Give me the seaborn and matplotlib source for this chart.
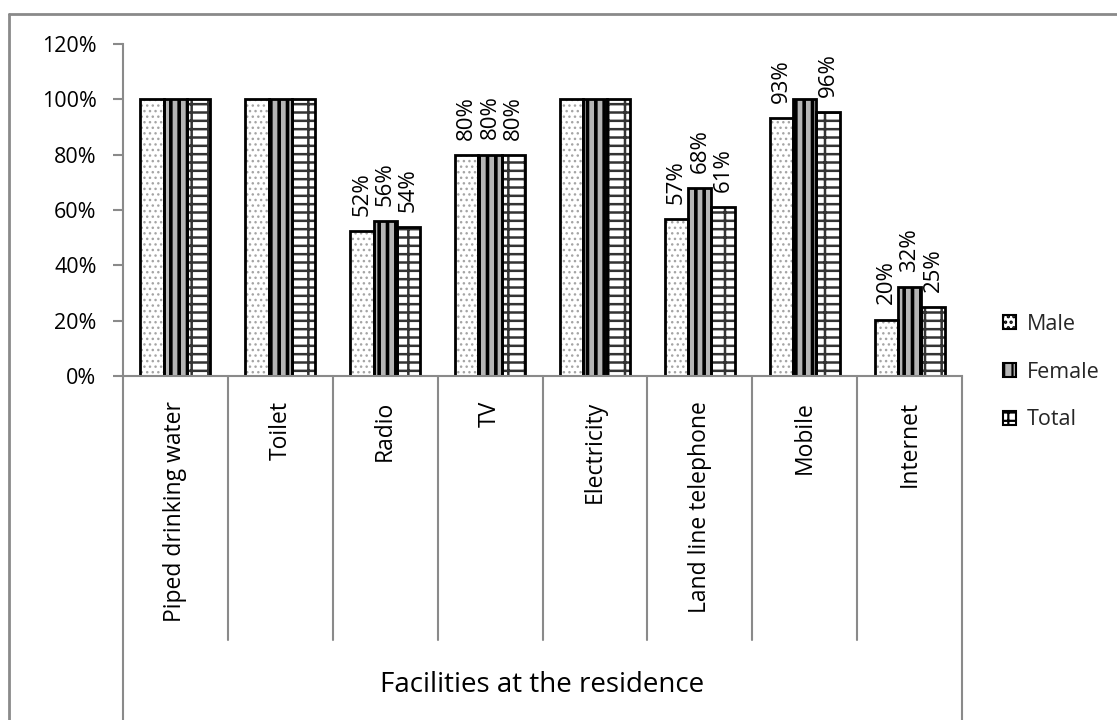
import matplotlib
matplotlib.use("Agg")
import matplotlib.pyplot as plt
import matplotlib.patches as mpatches
from matplotlib.lines import Line2D
from matplotlib.transforms import blended_transform_factory
import seaborn as sns
import pandas as pd

# ---- data -------------------------------------------------------------
facilities = ["Piped drinking water", "Toilet", "Radio", "TV", "Electricity",
              "Land line telephone", "Mobile", "Internet"]
groups = ["Male", "Female", "Total"]
male = [1.00, 1.00, 0.524, 0.797, 1.00, 0.568, 0.932, 0.204]
female = [1.00, 1.00, 0.560, 0.800, 1.00, 0.680, 1.00, 0.320]
total = [1.00, 1.00, 0.537, 0.797, 1.00, 0.610, 0.955, 0.248]
# which bars carry a value label
show_male = [False, False, True, True, False, True, True, True]
show_female = [False, False, True, True, False, True, False, True]
show_total = [False, False, True, True, False, True, True, True]
y_ticks = [0.0, 0.2, 0.4, 0.6, 0.8, 1.0, 1.2]
axis_title = "Facilities at the residence"

df = pd.DataFrame({
    "Facility": facilities * 3,
    "Group": [g for g in groups for _ in facilities],
    "Value": male + female + total,
})

# ---- style ------------------------------------------------------------
sns.set_theme(style="white")
plt.rcParams["font.family"] = ["Open Sans", "DejaVu Sans"]
plt.rcParams["hatch.linewidth"] = 1.6
GRID = "#8a8a8a"

fig = plt.figure(figsize=(11.17, 7.2), dpi=100)
W, H = 1117, 720
ax = fig.add_axes([123 / W, 1 - 376 / H, (962 - 123) / W, (376 - 44) / H])

# patterned fill layer
sns.barplot(data=df, x="Facility", y="Value", hue="Group", order=facilities,
            hue_order=groups, width=0.667, gap=0, palette=["white"] * 3,
            linewidth=0, legend=False, ax=ax, errorbar=None)
fills = {
    "Male": dict(fc="white", hatch="...", hc="#a5a5a5", hlw=1.0),
    "Female": dict(fc="#b5b5b5", hatch="||", hc="black", hlw=2.6),
    "Total": dict(fc="white", hatch="--|", hc="#333333", hlw=1.8),
}
for cont, g in zip(ax.containers, groups):
    st = fills[g]
    for p in cont:
        p.set_facecolor(st["fc"])
        p.set_hatch(st["hatch"])
        p.set_edgecolor(st["hc"])
        p.set_linewidth(0)
        if hasattr(p, "set_hatch_linewidth"):
            p.set_hatch_linewidth(st["hlw"])

n_fill = len(ax.containers)
# black outlines on top
sns.barplot(data=df, x="Facility", y="Value", hue="Group", order=facilities,
            hue_order=groups, width=0.667, gap=0, palette=["black"] * 3,
            fill=False, linewidth=2.0, legend=False, ax=ax, errorbar=None)

# value labels
shows = [show_male, show_female, show_total]
for cont, show in zip(ax.containers[n_fill:], shows):
    labels = [f"{v:.0%}" if s else "" for v, s in
              zip(cont.datavalues, show)]
    ax.bar_label(cont, labels=labels, rotation=90, padding=11,
                 fontsize=16, color="black")

# axes
ax.set_ylim(0, 1.2)
ax.set_xlim(-0.5, len(facilities) - 0.5)
ax.set_yticks(y_ticks)
ax.set_yticklabels([f"{t:.0%}" for t in y_ticks])
ax.set_xlabel("")
ax.set_ylabel("")
for s in ["top", "right"]:
    ax.spines[s].set_visible(False)
for s in ["left", "bottom"]:
    ax.spines[s].set_color(GRID)
    ax.spines[s].set_linewidth(1.5)
ax.tick_params(axis="y", which="major", length=7, width=1.5, color=GRID,
               left=True, labelsize=15.5, pad=12, labelcolor="black")
ax.tick_params(axis="x", length=0, pad=18, labelsize=16.5, labelrotation=90,
               labelcolor="black")

# category separators below the axis
trans = blended_transform_factory(ax.transData, ax.transAxes)
inner_bottom = (376 - 640) / (376 - 44)
outer_bottom = (376 - 725) / (376 - 44)
for i in range(len(facilities) + 1):
    xpos = i - 0.5
    yb = outer_bottom if i in (0, len(facilities)) else inner_bottom
    ax.add_line(Line2D([xpos, xpos], [0, yb], transform=trans, color=GRID,
                       lw=1.5, clip_on=False))

ax.text(0.5, (376 - 685) / (376 - 44), axis_title, transform=ax.transAxes,
        ha="center", va="center", fontsize=20, color="black")

# legend
handles = [mpatches.Patch(facecolor=fills[g]["fc"], hatch=fills[g]["hatch"],
                          edgecolor="black", linewidth=1.5, label=g)
           for g in groups]
fig.legend(handles=handles, loc="center left",
           bbox_to_anchor=(992 / W, 1 - 372 / H), frameon=False,
           fontsize=15.5, handlelength=0.6, handleheight=0.6,
           handletextpad=0.5, labelspacing=1.25, borderpad=0)

# chart border (left and top edges)
fig.add_artist(Line2D([9 / W, 9 / W], [0, 1 - 14 / H], transform=fig.transFigure,
                      color=GRID, lw=2))
fig.add_artist(Line2D([9 / W, 1], [1 - 14 / H, 1 - 14 / H],
                      transform=fig.transFigure, color=GRID, lw=2))

fig.savefig("out.png", dpi=100, facecolor="white")
